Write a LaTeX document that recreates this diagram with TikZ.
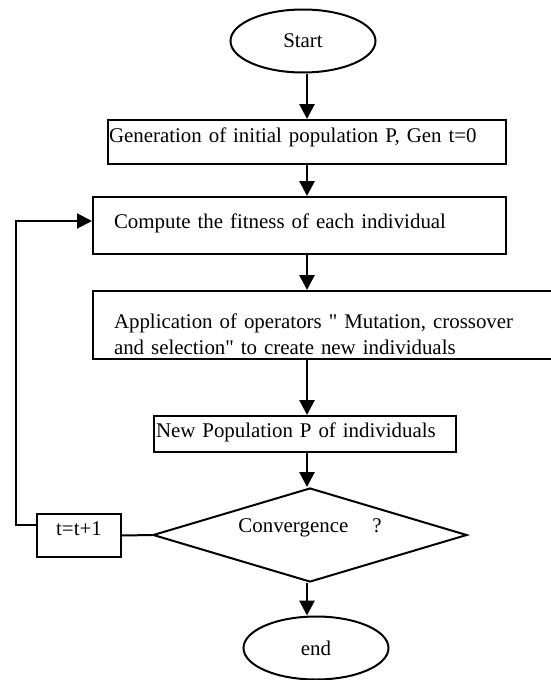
\documentclass[tikz,border=0pt]{standalone}
\usepackage{fontspec}
\setmainfont{Liberation Serif}
\usetikzlibrary{shapes.geometric, arrows.meta}

\begin{document}
\begin{tikzpicture}[x=0.5pt, y=-0.5pt, font=\fontsize{10.45}{13}\selectfont]
        \tikzstyle{box} = [draw, rectangle, line width=1pt, anchor=north west, inner ysep=0pt, align=left]
        \tikzstyle{terminal} = [draw, ellipse, line width=1pt, minimum width=72.5pt, minimum height=31.5pt, inner sep=0pt]
        \tikzstyle{decision} = [draw, diamond, aspect=3.34, line width=1pt, minimum width=157pt, minimum height=47pt, inner sep=0pt, text height=6pt, text depth=9pt]
        \tikzstyle{pointer} = [-{Triangle[length=7.5pt, width=7.5pt]}, line width=1.4pt]
        \useasboundingbox (0,0) rectangle (551,680);
        \coordinate (axis) at (307,0);
        \coordinate (back) at (16,525);
        \node[terminal] (start) at (303,41) {Start};
        \node[box, text width=198pt, inner xsep=0.5pt, text height=11pt, text depth=11pt] (gen) at (107,119) {Generation of initial population P, Gen t=0};
        \node[box, text width=185.5pt, inner xsep=10.5pt, text height=15.5pt, text depth=13pt] (fit) at (92,196) {Compute the fitness of each individual};
        \node[box, text width=212pt, inner xsep=10.5pt, text height=18.5pt, text depth=15.5pt] (oper) at (92,290) {Application of operators \textquotedbl{} Mutation, crossover\\and selection\textquotedbl{} to create  new individuals};
        \node[box, text width=149pt, inner xsep=1pt, text height=10.5pt, text depth=7.5pt] (newpop) at (153,415) {New Population P of individuals};
        \node[decision] (conv) at (310,535) {Convergence\hspace{12pt}?};
        \node[box, align=center, text width=42pt, inner xsep=0pt, text height=10.5pt, text depth=11pt] (tinc) at (36,513) {t=t+1};
        \node[terminal] (stop) at (316,648) {end};
        \path[pointer]
        (start.south -| axis) edge (gen.north -| axis)
        (gen.south -| axis) edge (fit.north -| axis)
        (fit.south -| axis) edge (oper.north -| axis)
        (oper.south -| axis) edge (newpop.north -| axis)
        (newpop.south -| axis) edge (conv.north -| axis)
        (conv.south -| axis) edge (stop.north -| axis);
        \draw[line width=1pt] (conv.west) -- (tinc.east);
        \draw[line width=1pt, -{Triangle[length=7.5pt, width=7.5pt]}] (back -| tinc.west) -- (back) |- ([yshift=2.25pt]fit.west);
    \end{tikzpicture}
\end{document}
